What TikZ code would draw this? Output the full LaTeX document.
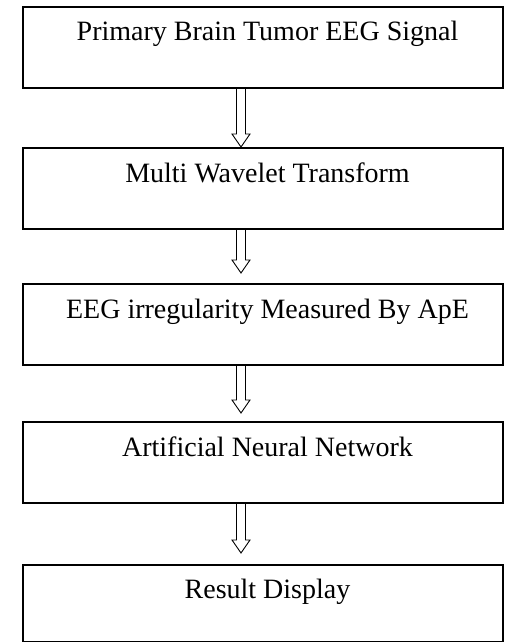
\documentclass[tikz,border=0pt]{standalone}
\usepackage{fontspec}
\setmainfont{Liberation Serif}
\usetikzlibrary{positioning,calc}
\tikzset{
        stagebox/.style={rectangle, draw=black, line width=1.4pt, inner sep=0pt, outer sep=0pt, minimum width=480pt, text height=34pt, text depth=47pt, font=\fontsize{28}{34}\selectfont, execute at begin node=\hspace*{9pt}},
        % Last box is a bit shorter
        stagebox_last/.style={stagebox, text height=33pt, text depth=44pt},
        % Hollow arrows between boxes
        hollow_arrow/.style={draw=black, line width=0.9pt, line join=miter}
}
\newcommand{\flowstep}[3]{%
    \coordinate (from) at ($(#1.south)+(-22pt,0)$);
    \coordinate (tip) at ($(#2.north)+(-22pt,#3)$);
    \draw[hollow_arrow] ($(from)+(-4.5pt,0)$) -- ($(tip)+(-4.5pt,13pt)$) -- ($(tip)+(-9pt,13pt)$) -- (tip) -- ($(tip)+(9pt,13pt)$) -- ($(tip)+(4.5pt,13pt)$) -- ($(from)+(4.5pt,0)$);
}
\begin{document}
\begin{tikzpicture}
            \useasboundingbox (0,0) rectangle (504pt,-642pt);
            \node[stagebox, anchor=north west] (signal) at (23pt,-7pt) {Primary Brain Tumor EEG Signal};
            \node[stagebox, below=60pt of signal] (wavelet) {Multi Wavelet Transform};
            \node[stagebox, below=55pt of wavelet] (ape) {EEG irregularity Measured By ApE};
            \node[stagebox, below=57pt of ape] (ann) {Artificial Neural Network};
            \node[stagebox_last, below=62pt of ann] (result) {Result Display};
            \flowstep{signal}{wavelet}{1pt}
            \flowstep{wavelet}{ape}{11pt}
            \flowstep{ape}{ann}{9pt}
            \flowstep{ann}{result}{12pt}
        \end{tikzpicture}
\end{document}
